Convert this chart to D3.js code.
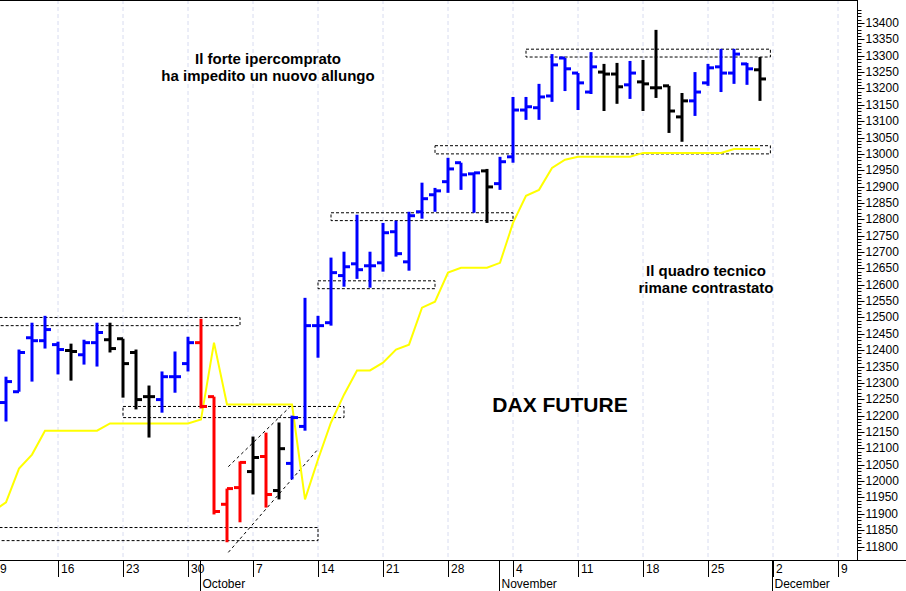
<!DOCTYPE html>
<html>
<head>
<meta charset="utf-8">
<script src="https://d3js.org/d3.v7.min.js"></script>
<style>
  body { margin: 0; background: #fff; }
  text { font-family: Arial, "Liberation Sans", sans-serif; }
</style>
</head>
<body>
<script>
// trading days from Mon 9 Sep 2019 (index 0) to Fri 29 Nov 2019 (index 59)
var weekLabels = ["9","16","23","30","7","14","21","28","4","11","18","25","2","9"];
var months = [{name: "October", day: 16}, {name: "November", day: 39}, {name: "December", day: 60}];

// bars start at index 1 (10 Sep)
var opens  = [12240,12273,12438,12429,12417,12399,12386,12423,12432,12435,12393,12258,12249,12319,12359,
              12423,12258,11929,11980,12029,12075,11971,12054,12167,12475,12484,12628,12664,12658,12667,
              12762,12670,12823,12875,12915,12973,12939,12948,12909,12991,13134,13141,13177,13293,13247,
              13189,13250,13244,13211,13220,13202,13208,13113,13162,13217,13266,13247,13275,13257];
var highs  = [12319,12402,12484,12505,12426,12420,12432,12484,12484,12435,12402,12292,12335,12396,12441,
              12496,12258,11977,12060,12136,12148,12179,12200,12560,12505,12683,12701,12814,12701,12789,
              12796,12823,12912,12896,12988,12973,12942,12954,12991,13174,13174,13214,13305,13293,13247,
              13311,13275,13278,13284,13287,13379,13208,13186,13250,13275,13321,13321,13278,13296];
var lows   = [12182,12273,12304,12405,12326,12307,12356,12350,12393,12255,12219,12133,12209,12270,12335,
              12222,11898,11813,11874,11959,11919,11944,12005,12154,12377,12475,12594,12618,12591,12640,
              12686,12643,12802,12823,12881,12890,12820,12789,12890,12973,13104,13104,13159,13192,13134,
              13183,13131,13153,13168,13131,13171,13064,13037,13116,13208,13189,13214,13211,13162];
var closes = [12304,12393,12429,12463,12402,12396,12423,12454,12405,12359,12249,12258,12319,12319,12423,
              12228,11907,11977,12057,12072,11959,12099,12194,12475,12475,12637,12655,12646,12658,12759,
              12695,12811,12863,12887,12954,12936,12942,12899,12976,13134,13144,13174,13272,13260,13217,
              13266,13244,13205,13247,13214,13202,13131,13162,13189,13263,13247,13305,13260,13229];
var colors = "BBBBBKBBKKKKBBBRRRRKRKBBBBBBBBBBBBBBBKBBBBBBBBKKBKKKKBBBBBK".split("");

// yellow indicator, index 0..59
var yellow = [11907,11935,12038,12081,12154,12154,12154,12154,12154,12176,12176,12176,12176,12176,12176,
              12176,12188,12423,12234,12234,12234,12234,12234,12234,11944,12066,12179,12264,12338,12338,
              12362,12402,12417,12530,12548,12637,12652,12652,12652,12667,12789,12872,12890,12957,12982,
              12991,12991,12991,12991,12991,13003,13003,13003,13003,13003,13003,13003,13015,13015,13015];

// dashed bands [fromDay, toDay, low, high]
var bands = [[0.5,19,12475,12500],[10,27,12194,12228],[0.5,25,11818,11858],[25,34,12588,12612],
             [26,40,12796,12820],[34,59.8,13000,13025],[41,59.8,13296,13320]];
// channel lines [day1, value1, day2, value2]
var channel = [[18.1,12044,22.8,12225],[18.1,11782,24.9,12093]];

var W = 906, H = 591, right = 857, bottom = 560;
var svg = d3.select("body").append("svg").attr("width", W).attr("height", H);

var x = d3.scaleLinear().domain([0, 1]).range([-7, 6]);
var y = d3.scaleLinear().domain([11800, 13400]).range([546.5, 23]);

svg.append("defs").append("clipPath").attr("id", "plot")
  .append("rect").attr("x", 0).attr("y", 0).attr("width", right).attr("height", bottom);
var g = svg.append("g").attr("clip-path", "url(#plot)");

// monday gridlines
d3.range(0, 70, 5).forEach(function (d) {
  g.append("line").attr("x1", x(d)).attr("x2", x(d)).attr("y1", 0).attr("y2", bottom)
    .attr("stroke", "#d8dcf0").attr("stroke-dasharray", "4,3");
});

// bands
bands.forEach(function (b) {
  g.append("rect").attr("x", x(b[0])).attr("width", x(b[1]) - x(b[0]))
    .attr("y", y(b[3])).attr("height", y(b[2]) - y(b[3]))
    .attr("fill", "none").attr("stroke", "#000").attr("stroke-dasharray", "3,2");
});
channel.forEach(function (c) {
  g.append("line").attr("x1", x(c[0])).attr("y1", y(c[1])).attr("x2", x(c[2])).attr("y2", y(c[3]))
    .attr("stroke", "#000").attr("stroke-dasharray", "3,3");
});

// yellow line
g.append("path").datum(yellow)
  .attr("d", d3.line().x(function (d, i) { return x(i); }).y(function (d) { return y(d); }))
  .attr("fill", "none").attr("stroke", "#ffff00").attr("stroke-width", 2);

// OHLC bars
var col = {B: "#0000ff", K: "#000000", R: "#ff0000"};
opens.forEach(function (o, k) {
  var i = k + 1, c = col[colors[k]], xi = x(i);
  var bar = g.append("g").attr("stroke", c).attr("stroke-width", 3);
  bar.append("line").attr("x1", xi).attr("x2", xi).attr("y1", y(highs[k])).attr("y2", y(lows[k]));
  bar.append("line").attr("x1", xi - 6).attr("x2", xi).attr("y1", y(o)).attr("y2", y(o));
  bar.append("line").attr("x1", xi).attr("x2", xi + 6).attr("y1", y(closes[k])).attr("y2", y(closes[k]));
});

// frame
svg.append("line").attr("x1", 0).attr("x2", right).attr("y1", 0.5).attr("y2", 0.5).attr("stroke", "#000");
svg.append("line").attr("x1", right + 0.5).attr("x2", right + 0.5).attr("y1", 0).attr("y2", bottom).attr("stroke", "#000");
svg.append("line").attr("x1", 0).attr("x2", W).attr("y1", bottom + 0.5).attr("y2", bottom + 0.5).attr("stroke", "#000");

// right axis
var ax = svg.append("g").attr("transform", "translate(" + (right + 0.5) + ",0)");
d3.range(11790, 13441, 10).forEach(function (v) {
  var major = v % 50 === 0;
  ax.append("line").attr("x1", 0).attr("x2", major ? 7 : 4).attr("y1", Math.round(y(v)) + 0.5)
    .attr("y2", Math.round(y(v)) + 0.5).attr("stroke", "#000");
  if (major && v >= 11800 && v <= 13400)
    ax.append("text").attr("x", 8).attr("y", y(v) + 4).attr("font-size", 12).text(v);
});

// bottom axis
weekLabels.forEach(function (t, k) {
  var xi = x(k * 5);
  svg.append("line").attr("x1", xi + 0.5).attr("x2", xi + 0.5).attr("y1", bottom).attr("y2", 577).attr("stroke", "#000");
  svg.append("text").attr("x", Math.max(xi + 3, 0)).attr("y", 573).attr("font-size", 12).text(t);
});
months.forEach(function (m) {
  var xi = x(m.day) - 0.5;
  svg.append("line").attr("x1", xi).attr("x2", xi).attr("y1", bottom).attr("y2", H).attr("stroke", "#000");
  svg.append("text").attr("x", xi + 2).attr("y", 588).attr("font-size", 12).text(m.name);
});

// annotations
function note(lines, cx, cy, size) {
  lines.forEach(function (t, k) {
    svg.append("text").attr("x", cx).attr("y", cy + k * 17).attr("text-anchor", "middle")
      .attr("font-size", size).attr("font-weight", "bold").text(t);
  });
}
note(["Il forte ipercomprato", "ha impedito un nuovo allungo"], 268, 64, 15);
note(["Il quadro tecnico", "rimane contrastato"], 706, 276, 15);
note(["DAX FUTURE"], 560, 412, 21);
</script>
</body>
</html>
